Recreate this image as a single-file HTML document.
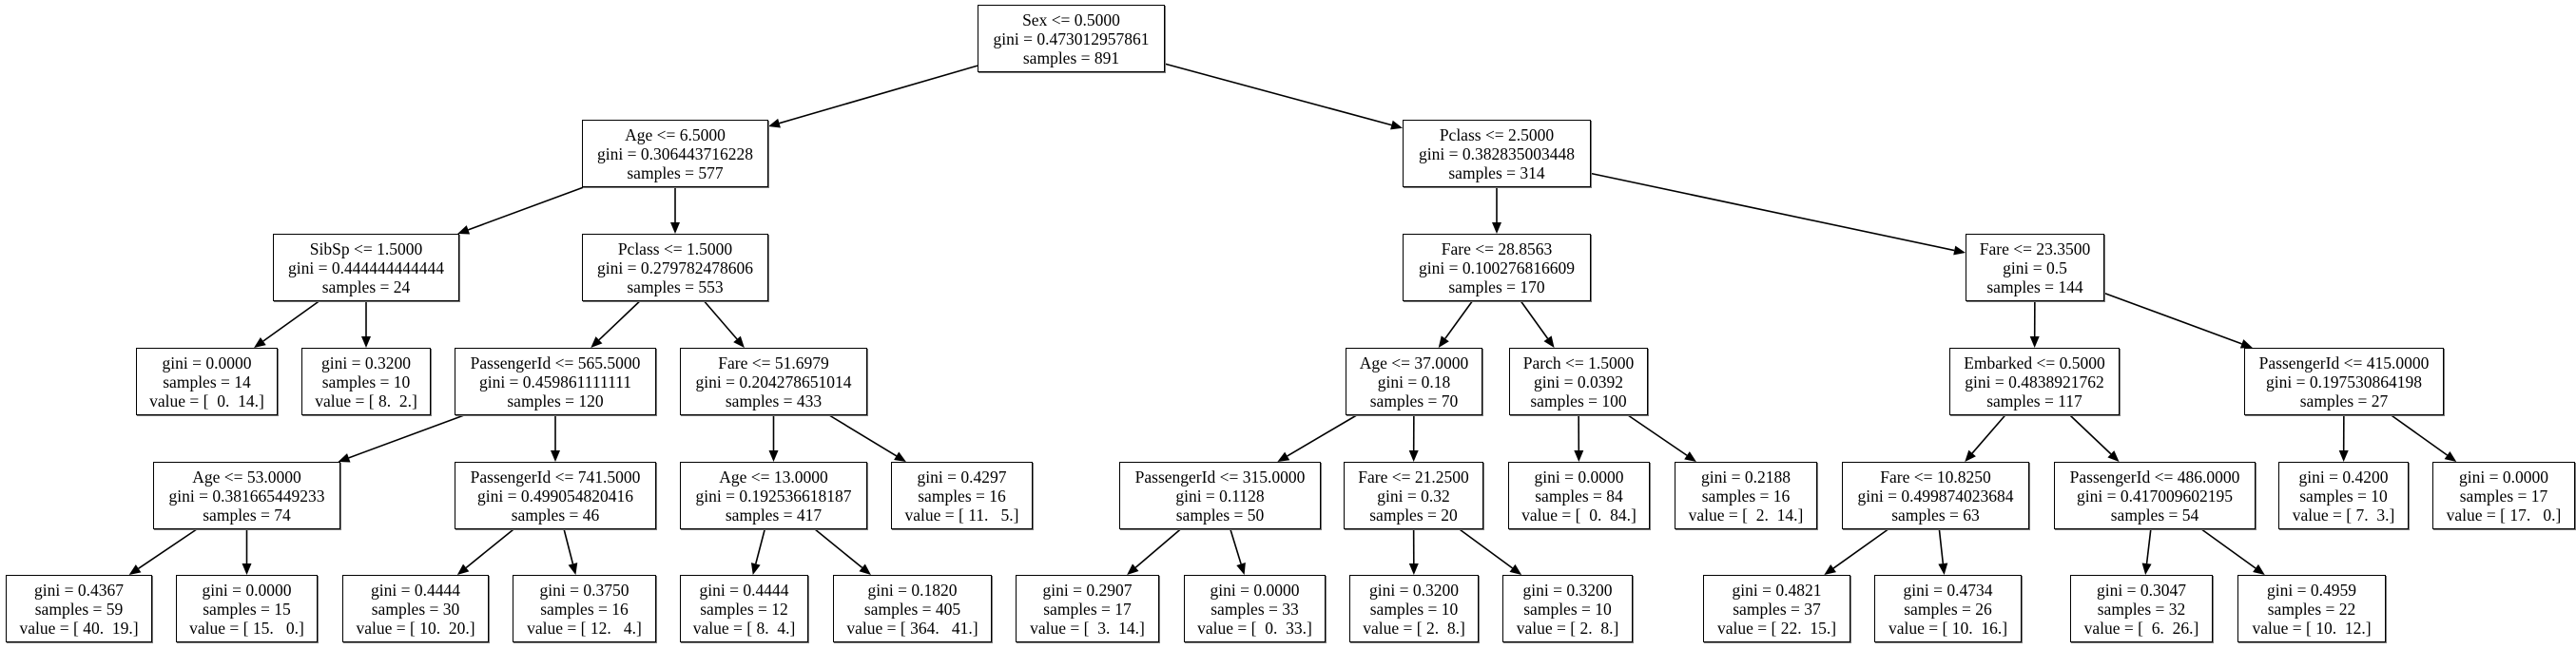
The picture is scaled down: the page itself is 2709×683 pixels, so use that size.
<!DOCTYPE html>
<html><head><meta charset="utf-8">
<style>
html,body{margin:0;padding:0;background:#fff;}
#c{position:relative;width:2709px;height:683px;overflow:hidden;background:#fff;}
.n{position:absolute;height:71px;box-sizing:border-box;border:1.6px solid #000;background:#fff;
font-family:"Liberation Serif",serif;font-size:17.5px;line-height:20px;text-align:center;
padding-top:5px;white-space:pre;color:#000;box-shadow:1px 1px 0 #777;}
svg{position:absolute;left:0;top:0;}
</style></head><body>
<div id="c">
<svg id="e" width="2709" height="683"></svg>
<div class="n" id="a" style="left:1028px;top:5px;width:197px">Sex &lt;= 0.5000<br>gini = 0.473012957861<br>samples = 891</div>
<div class="n" id="b" style="left:612px;top:126px;width:196px">Age &lt;= 6.5000<br>gini = 0.306443716228<br>samples = 577</div>
<div class="n" id="c1" style="left:1475px;top:126px;width:198px">Pclass &lt;= 2.5000<br>gini = 0.382835003448<br>samples = 314</div>
<div class="n" id="d" style="left:287px;top:246px;width:196px">SibSp &lt;= 1.5000<br>gini = 0.444444444444<br>samples = 24</div>
<div class="n" id="f" style="left:612px;top:246px;width:196px">Pclass &lt;= 1.5000<br>gini = 0.279782478606<br>samples = 553</div>
<div class="n" id="g" style="left:1475px;top:246px;width:198px">Fare &lt;= 28.8563<br>gini = 0.100276816609<br>samples = 170</div>
<div class="n" id="h" style="left:2067px;top:246px;width:146px">Fare &lt;= 23.3500<br>gini = 0.5<br>samples = 144</div>
<div class="n" id="i" style="left:143px;top:366px;width:149px">gini = 0.0000<br>samples = 14<br>value = [  0.  14.]</div>
<div class="n" id="j" style="left:317px;top:366px;width:136px">gini = 0.3200<br>samples = 10<br>value = [ 8.  2.]</div>
<div class="n" id="k" style="left:478px;top:366px;width:212px">PassengerId &lt;= 565.5000<br>gini = 0.459861111111<br>samples = 120</div>
<div class="n" id="l" style="left:715px;top:366px;width:197px">Fare &lt;= 51.6979<br>gini = 0.204278651014<br>samples = 433</div>
<div class="n" id="m" style="left:1415px;top:366px;width:144px">Age &lt;= 37.0000<br>gini = 0.18<br>samples = 70</div>
<div class="n" id="o" style="left:1587px;top:366px;width:146px">Parch &lt;= 1.5000<br>gini = 0.0392<br>samples = 100</div>
<div class="n" id="p" style="left:2050px;top:366px;width:179px">Embarked &lt;= 0.5000<br>gini = 0.4838921762<br>samples = 117</div>
<div class="n" id="q" style="left:2360px;top:366px;width:210px">PassengerId &lt;= 415.0000<br>gini = 0.197530864198<br>samples = 27</div>
<div class="n" id="r" style="left:161px;top:486px;width:197px">Age &lt;= 53.0000<br>gini = 0.381665449233<br>samples = 74</div>
<div class="n" id="s" style="left:478px;top:486px;width:212px">PassengerId &lt;= 741.5000<br>gini = 0.499054820416<br>samples = 46</div>
<div class="n" id="t" style="left:715px;top:486px;width:197px">Age &lt;= 13.0000<br>gini = 0.192536618187<br>samples = 417</div>
<div class="n" id="u" style="left:937px;top:486px;width:149px">gini = 0.4297<br>samples = 16<br>value = [ 11.   5.]</div>
<div class="n" id="v" style="left:1177px;top:486px;width:212px">PassengerId &lt;= 315.0000<br>gini = 0.1128<br>samples = 50</div>
<div class="n" id="w" style="left:1413px;top:486px;width:147px">Fare &lt;= 21.2500<br>gini = 0.32<br>samples = 20</div>
<div class="n" id="x" style="left:1586px;top:486px;width:149px">gini = 0.0000<br>samples = 84<br>value = [  0.  84.]</div>
<div class="n" id="y" style="left:1761px;top:486px;width:150px">gini = 0.2188<br>samples = 16<br>value = [  2.  14.]</div>
<div class="n" id="z" style="left:1937px;top:486px;width:197px">Fare &lt;= 10.8250<br>gini = 0.499874023684<br>samples = 63</div>
<div class="n" id="aa" style="left:2160px;top:486px;width:212px">PassengerId &lt;= 486.0000<br>gini = 0.417009602195<br>samples = 54</div>
<div class="n" id="ab" style="left:2396px;top:486px;width:137px">gini = 0.4200<br>samples = 10<br>value = [ 7.  3.]</div>
<div class="n" id="ac" style="left:2558px;top:486px;width:150px">gini = 0.0000<br>samples = 17<br>value = [ 17.   0.]</div>
<div class="n" id="l1" style="left:6px;top:605px;width:154px">gini = 0.4367<br>samples = 59<br>value = [ 40.  19.]</div>
<div class="n" id="l2" style="left:185px;top:605px;width:149px">gini = 0.0000<br>samples = 15<br>value = [ 15.   0.]</div>
<div class="n" id="l3" style="left:360px;top:605px;width:154px">gini = 0.4444<br>samples = 30<br>value = [ 10.  20.]</div>
<div class="n" id="l4" style="left:539px;top:605px;width:151px">gini = 0.3750<br>samples = 16<br>value = [ 12.   4.]</div>
<div class="n" id="l5" style="left:715px;top:605px;width:135px">gini = 0.4444<br>samples = 12<br>value = [ 8.  4.]</div>
<div class="n" id="l6" style="left:876px;top:605px;width:167px">gini = 0.1820<br>samples = 405<br>value = [ 364.   41.]</div>
<div class="n" id="l7" style="left:1068px;top:605px;width:151px">gini = 0.2907<br>samples = 17<br>value = [  3.  14.]</div>
<div class="n" id="l8" style="left:1245px;top:605px;width:149px">gini = 0.0000<br>samples = 33<br>value = [  0.  33.]</div>
<div class="n" id="l9" style="left:1419px;top:605px;width:136px">gini = 0.3200<br>samples = 10<br>value = [ 2.  8.]</div>
<div class="n" id="l10" style="left:1580px;top:605px;width:137px">gini = 0.3200<br>samples = 10<br>value = [ 2.  8.]</div>
<div class="n" id="l11" style="left:1791px;top:605px;width:155px">gini = 0.4821<br>samples = 37<br>value = [ 22.  15.]</div>
<div class="n" id="l12" style="left:1971px;top:605px;width:155px">gini = 0.4734<br>samples = 26<br>value = [ 10.  16.]</div>
<div class="n" id="l13" style="left:2177px;top:605px;width:150px">gini = 0.3047<br>samples = 32<br>value = [  6.  26.]</div>
<div class="n" id="l14" style="left:2353px;top:605px;width:156px">gini = 0.4959<br>samples = 22<br>value = [ 10.  12.]</div>
</div>
<script>
var E=[["a","b"],["a","c1"],["b","d"],["b","f"],["c1","g"],["c1","h"],["d","i"],["d","j"],["f","k"],["f","l"],
["g","m"],["g","o"],["h","p"],["h","q"],["k","r"],["k","s"],["l","t"],["l","u"],["m","v"],["m","w"],["o","x"],["o","y"],
["p","z"],["p","aa"],["q","ab"],["q","ac"],["r","l1"],["r","l2"],["s","l3"],["s","l4"],["t","l5"],["t","l6"],
["v","l7"],["v","l8"],["w","l9"],["w","l10"],["z","l11"],["z","l12"],["aa","l13"],["aa","l14"]];
function box(id){var e=document.getElementById(id);return{x:e.offsetLeft,y:e.offsetTop,w:e.offsetWidth,h:e.offsetHeight};}
function clip(b,px,py,dx,dy){var t=1e9,hw=b.w/2,hh=b.h/2;
if(dx)t=Math.min(t,hw/Math.abs(dx));if(dy)t=Math.min(t,hh/Math.abs(dy));return [px+dx*t,py+dy*t];}
var s="";
E.forEach(function(p){var A=box(p[0]),B=box(p[1]);
var ax=A.x+A.w/2,ay=A.y+A.h/2,bx=B.x+B.w/2,by=B.y+B.h/2;
var dx=bx-ax,dy=by-ay;var s1=clip(A,ax,ay,dx,dy),s2=clip(B,bx,by,-dx,-dy);
var L=Math.hypot(s2[0]-s1[0],s2[1]-s1[1]),ux=(s2[0]-s1[0])/L,uy=(s2[1]-s1[1])/L;
var al=12,aw=5;var bx0=s2[0]-ux*al,by0=s2[1]-uy*al;
s+='<line x1="'+s1[0]+'" y1="'+s1[1]+'" x2="'+bx0+'" y2="'+by0+'" stroke="#000" stroke-width="1.6"/>';
s+='<polygon points="'+s2[0]+','+s2[1]+' '+(bx0-uy*aw)+','+(by0+ux*aw)+' '+(bx0+uy*aw)+','+(by0-ux*aw)+'" fill="#000"/>';});
document.getElementById("e").innerHTML=s;
</script>
</body></html>
